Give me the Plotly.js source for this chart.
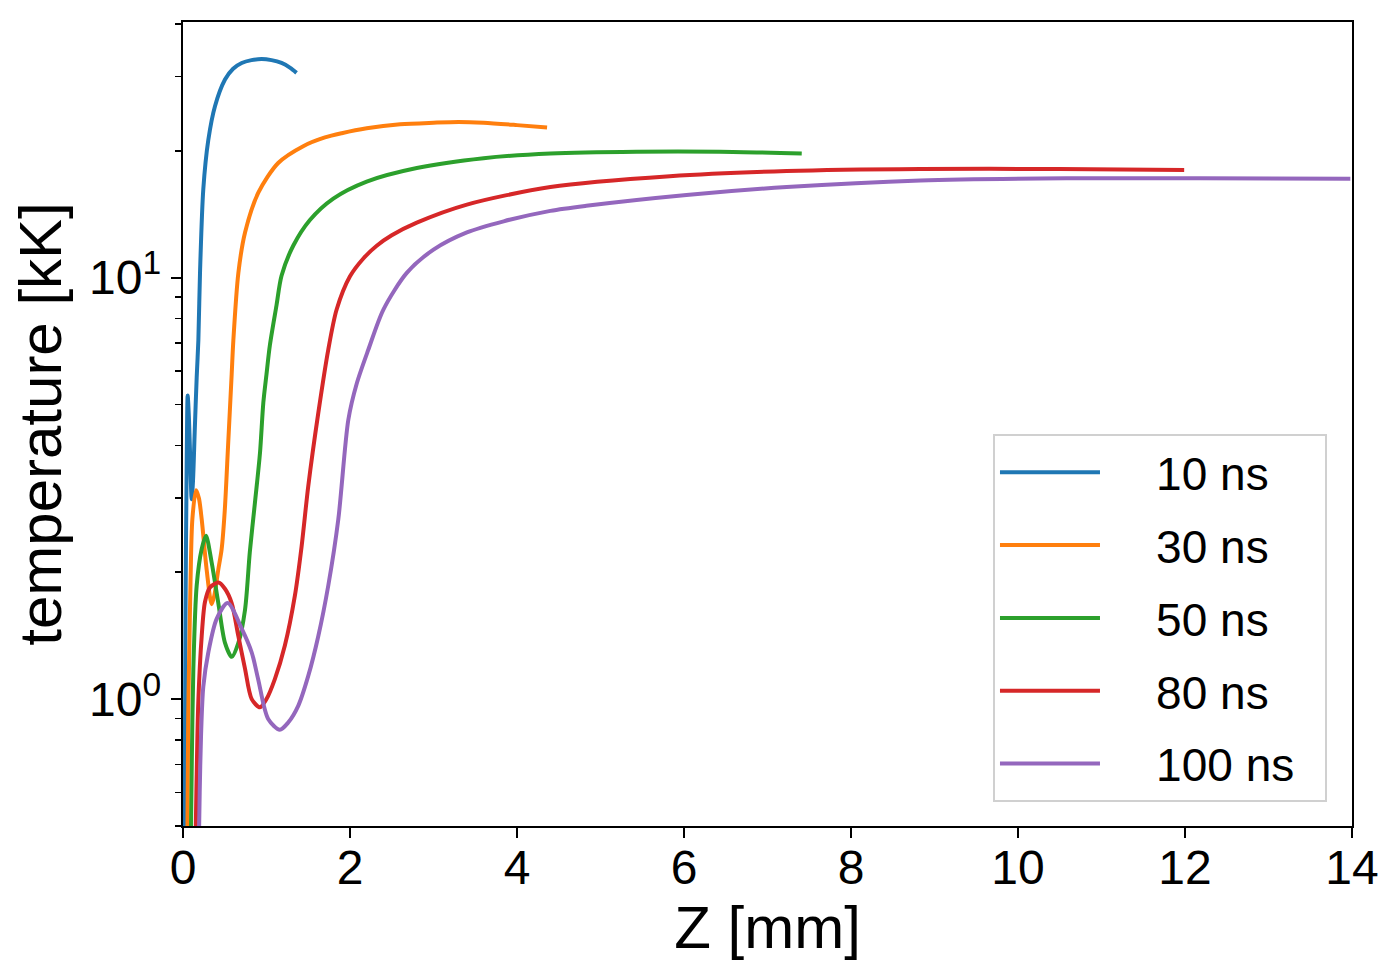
<!DOCTYPE html>
<html>
<head>
<meta charset="utf-8">
<script src="https://cdn.plot.ly/plotly-3.0.1.min.js"></script>
<style>
  body { margin: 0; background: #fff; }
  #fig { width: 1400px; height: 980px; }
</style>
</head>
<body>
<div id="fig"></div>
<script>
// temperature profiles along Z
var labels = ['10 ns', '30 ns', '50 ns', '80 ns', '100 ns'];
var colors = ['#1f77b4', '#ff7f0e', '#2ca02c', '#d62728', '#9467bd'];

var z10 = [0.018, 0.03, 0.045, 0.056, 0.07, 0.085, 0.104, 0.12, 0.14, 0.164, 0.184, 0.204, 0.243,
           0.303, 0.383, 0.503, 0.60, 0.703, 0.82, 0.942, 1.06, 1.18, 1.28, 1.36];
var t10 = [0.45, 1.6, 3.8, 5.25, 4.7, 3.8, 2.98, 3.3, 4.3, 5.8, 7.1, 10.3, 16.2,
           21.2, 25.5, 29.5, 31.3, 32.3, 32.8, 33.0, 32.8, 32.3, 31.5, 30.6];

var z30 = [0.052, 0.062, 0.075, 0.09, 0.112, 0.156, 0.19, 0.224, 0.283, 0.343, 0.375, 0.423, 0.463,
           0.50, 0.54, 0.583, 0.603, 0.663, 0.743, 0.902, 1.14, 1.44, 1.70, 1.90, 2.20, 2.60,
           3.0, 3.30, 3.60, 4.0, 4.36];
var t30 = [0.45, 0.9, 1.3, 1.9, 2.67, 3.13, 3.0, 2.67, 2.03, 1.68, 1.76, 2.03, 2.27,
           2.8, 4.0, 5.9, 7.1, 10.26, 12.8, 15.9, 18.7, 20.5, 21.5, 22.0, 22.6, 23.1,
           23.3, 23.4, 23.3, 23.0, 22.7];

var z50 = [0.09, 0.105, 0.124, 0.164, 0.224, 0.275, 0.343, 0.423, 0.503, 0.583, 0.663, 0.743, 0.80,
           0.862, 0.922, 0.962, 1.0, 1.04, 1.12, 1.18, 1.32, 1.52, 1.80, 2.20, 2.80, 3.60, 4.40,
           5.43, 6.43, 7.41];
var t50 = [0.4, 0.7, 1.18, 1.86, 2.27, 2.44, 2.11, 1.69, 1.36, 1.26, 1.36, 1.63, 2.23,
           2.93, 3.84, 5.05, 5.9, 6.9, 8.6, 10.1, 11.9, 13.7, 15.4, 16.9, 18.2, 19.2, 19.7,
           19.9, 19.9, 19.7];

var z80 = [0.145, 0.16, 0.183, 0.224, 0.263, 0.323, 0.423, 0.50, 0.583, 0.663, 0.743, 0.823, 0.922,
           1.0, 1.10, 1.22, 1.34, 1.42, 1.50, 1.62, 1.74, 1.84, 2.0, 2.16, 2.32, 2.50, 2.80, 3.40,
           4.40, 5.83, 7.23, 8.83, 10.5, 11.99];
var t80 = [0.4, 0.6, 0.98, 1.41, 1.70, 1.84, 1.89, 1.83, 1.69, 1.41, 1.18, 1.0, 0.956,
           1.0, 1.115, 1.34, 1.76, 2.3, 3.2, 4.77, 6.75, 8.4, 10.07, 11.1, 11.9, 12.6, 13.5, 14.9,
           16.4, 17.4, 17.9, 18.1, 18.1, 18.0];

var z100 = [0.185, 0.2, 0.216, 0.243, 0.303, 0.403, 0.535, 0.703, 0.823, 0.90, 1.02, 1.16, 1.26,
            1.38, 1.50, 1.62, 1.74, 1.86, 1.98, 2.08, 2.22, 2.40, 2.68, 3.0, 3.40, 3.84, 4.40,
            4.83, 6.03, 7.23, 8.83, 10.58, 12.18, 13.98];
var t100 = [0.4, 0.6, 0.82, 1.07, 1.29, 1.55, 1.69, 1.47, 1.29, 1.115, 0.897, 0.846, 0.88,
            0.964, 1.135, 1.41, 1.86, 2.67, 4.6, 5.6, 6.75, 8.4, 10.26, 11.65, 12.8, 13.6, 14.4,
            14.8, 15.7, 16.4, 17.0, 17.2, 17.2, 17.15];

var zs = [z10, z30, z50, z80, z100];
var ts = [t10, t30, t50, t80, t100];

var yMajor = [1, 10];
var yMajorText = ['10<sup>0</sup>', '10<sup>1</sup>'];
var yMinor = [0.5, 0.6, 0.7, 0.8, 0.9, 2, 3, 4, 5, 6, 7, 8, 9, 20, 30, 40];

var font = 'Liberation Sans, Arial, Helvetica, sans-serif';
var pad = '\u00a0\u00a0\u00a0\u00a0'; // room between legend line and label

var series = [];
for (var i = 0; i < labels.length; i++) {
  series.push({
    x: zs[i],
    y: ts[i],
    type: 'scatter',
    mode: 'lines',
    name: pad + labels[i] + '\u00a0\u00a0',
    legendgroup: 'g' + i,
    line: { color: colors[i], width: 4, shape: 'spline', smoothing: 0.8 }
  });
}

var axisCommon = {
  showline: true, mirror: true, linecolor: '#000', linewidth: 2.2,
  ticks: 'outside', ticklen: 10, tickwidth: 2.2, tickcolor: '#000',
  showgrid: false, zeroline: false,
  tickfont: { family: font, size: 48, color: '#000' }
};

var layout = {
  width: 1400, height: 980,
  margin: { l: 183, r: 48, t: 22, b: 154 },
  paper_bgcolor: '#fff', plot_bgcolor: '#fff',
  font: { family: font, color: '#000' },
  showlegend: true,
  xaxis: Object.assign({}, axisCommon, {
    range: [0, 14], dtick: 2, tick0: 0,
    ticklabelstandoff: -12,
    title: { text: 'Z [mm]', font: { family: font, size: 60 }, standoff: 0 }
  }),
  yaxis: Object.assign({}, axisCommon, {
    type: 'log', range: [Math.log10(0.5), Math.log10(40.4)],
    tickmode: 'array', tickvals: yMajor, ticktext: yMajorText,
    minor: { tickmode: 'array', tickvals: yMinor, ticks: 'outside', ticklen: 6, tickwidth: 1.6, tickcolor: '#000', showgrid: false },
    title: { text: 'temperature [kK]', font: { family: font, size: 60 }, standoff: 8 }
  }),
  legend: {
    x: 0.9786, xanchor: 'right', y: 0.03, yanchor: 'bottom',
    bgcolor: '#fff', bordercolor: '#d0d0d0', borderwidth: 2,
    font: { family: font, size: 46, color: '#000' },
    itemwidth: 100, tracegroupgap: 10
  }
};

Plotly.newPlot('fig', series, layout, { staticPlot: true, displayModeBar: false });
</script>
</body>
</html>
